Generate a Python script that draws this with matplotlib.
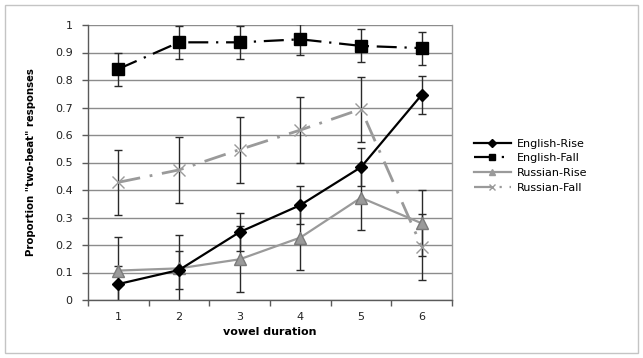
import matplotlib
matplotlib.use("Agg")
import matplotlib.pyplot as plt
from matplotlib.patches import Rectangle
from matplotlib.lines import Line2D

# ---- data ----
durations = [1, 2, 3, 4, 5, 6]
tick_labels = ["1", "2", "3", "4", "5", "6"]

english_rise = [0.058, 0.109, 0.247, 0.345, 0.483, 0.746]
english_rise_err = [0.065, 0.07, 0.07, 0.07, 0.069, 0.07]

english_fall = [0.84, 0.937, 0.937, 0.948, 0.924, 0.916]
english_fall_err = [0.06, 0.06, 0.06, 0.057, 0.06, 0.06]

russian_rise = [0.107, 0.115, 0.148, 0.227, 0.372, 0.279]
russian_rise_err = [0.122, 0.122, 0.12, 0.117, 0.118, 0.12]

russian_fall = [0.428, 0.473, 0.547, 0.618, 0.694, 0.194]
russian_fall_err = [0.119, 0.12, 0.12, 0.12, 0.118, 0.12]

series_names = ["English-Rise", "English-Fall", "Russian-Rise", "Russian-Fall"]

W, H = 643, 358
fig = plt.figure(figsize=(W / 100, H / 100), dpi=100)
fig.patch.set_facecolor("white")

# outer light border
fig.patches.append(Rectangle((4.5 / W, 1 - 353 / H), (638 - 4.5) / W, (353 - 4.5) / H,
                             transform=fig.transFigure, fill=False,
                             edgecolor="#c4c4c4", linewidth=1.0))

ax = fig.add_axes([88 / W, 1 - 300 / H, (452 - 88) / W, (300 - 25) / H])

gray = "#9a9a9a"
ecol = "#2a2a2a"
err_kw = dict(ecolor=ecol, elinewidth=1.0, capsize=3.2, capthick=1.0)
ef_dash = (0, (9, 3.5, 1, 3.5))
rf_dash = (0, (8, 3.5, 1, 3.5))

# English-Rise
ax.errorbar(durations, english_rise, yerr=english_rise_err, fmt="none", zorder=2, **err_kw)
ax.plot(durations, english_rise, color="black", lw=1.6, marker="D", ms=6.5,
        mfc="black", mec="black", zorder=4)

# English-Fall
ax.errorbar(durations, english_fall, yerr=english_fall_err, fmt="none", zorder=2, **err_kw)
ax.plot(durations, english_fall, color="black", lw=1.6, ls=ef_dash, marker="s",
        ms=8, mfc="black", mec="black", zorder=4)

# Russian-Rise
ax.errorbar(durations, russian_rise, yerr=russian_rise_err, fmt="none", zorder=2, **err_kw)
ax.plot(durations, russian_rise, color=gray, lw=1.6, marker="^", ms=8,
        mfc=gray, mec="#7a7a7a", zorder=3)

# Russian-Fall
ax.errorbar(durations, russian_fall, yerr=russian_fall_err, fmt="none", zorder=2, **err_kw)
ax.plot(durations, russian_fall, color=gray, lw=2.0, ls=rf_dash, marker="x",
        ms=8, mew=1.0, mfc=gray, mec=gray, zorder=3)

ax.set_xlim(0.5, 6.5)
ax.set_ylim(0, 1)
ax.set_yticks([i / 10 for i in range(11)])
ax.set_yticklabels(["0", "0.1", "0.2", "0.3", "0.4", "0.5", "0.6", "0.7", "0.8", "0.9", "1"])
ax.set_xticks(durations)
ax.set_xticklabels(tick_labels)
ax.set_xticks([0.5 + i for i in range(7)], minor=True)

ax.yaxis.grid(True, color="#8c8c8c", lw=1.0)
ax.set_axisbelow(True)

for s in ["left", "bottom"]:
    ax.spines[s].set_color("#5a5a5a")
    ax.spines[s].set_linewidth(1.0)
ax.spines["top"].set_visible(False)
ax.spines["right"].set_color("#9a9a9a")
ax.spines["right"].set_linewidth(1.0)

ax.tick_params(axis="y", direction="out", length=4, width=1, color="#5a5a5a",
               pad=7, labelsize=8, labelcolor="#222222")
ax.tick_params(axis="x", which="major", length=0, pad=9, labelsize=8, labelcolor="#222222")
ax.tick_params(axis="x", which="minor", direction="out", length=4, width=1, color="#5a5a5a")

ax.set_xlabel("vowel duration", fontsize=8, fontweight="bold", labelpad=3)
ax.set_ylabel('Proportion "two-beat" responses', fontsize=7.3, fontweight="bold")
ax.yaxis.set_label_coords((36 - 88) / (452 - 88), 0.5)

handles = [
    Line2D([], [], color="black", lw=1.6, marker="D", ms=4, mfc="black", mec="black"),
    Line2D([], [], color="black", lw=1.6, ls=ef_dash, marker="s", ms=5,
           mfc="black", mec="black"),
    Line2D([], [], color=gray, lw=1.6, marker="^", ms=5, mfc=gray, mec=gray),
    Line2D([], [], color=gray, lw=1.6, ls=rf_dash, marker="x", ms=5, mfc=gray, mec=gray),
]
fig.legend(handles, series_names, loc="upper left",
           bbox_to_anchor=(468 / W, 1 - 133 / H), frameon=False, fontsize=8,
           handlelength=3.4, handletextpad=0.5, labelspacing=0.42, borderpad=0)

fig.savefig("out.png", dpi=100, facecolor="white")
